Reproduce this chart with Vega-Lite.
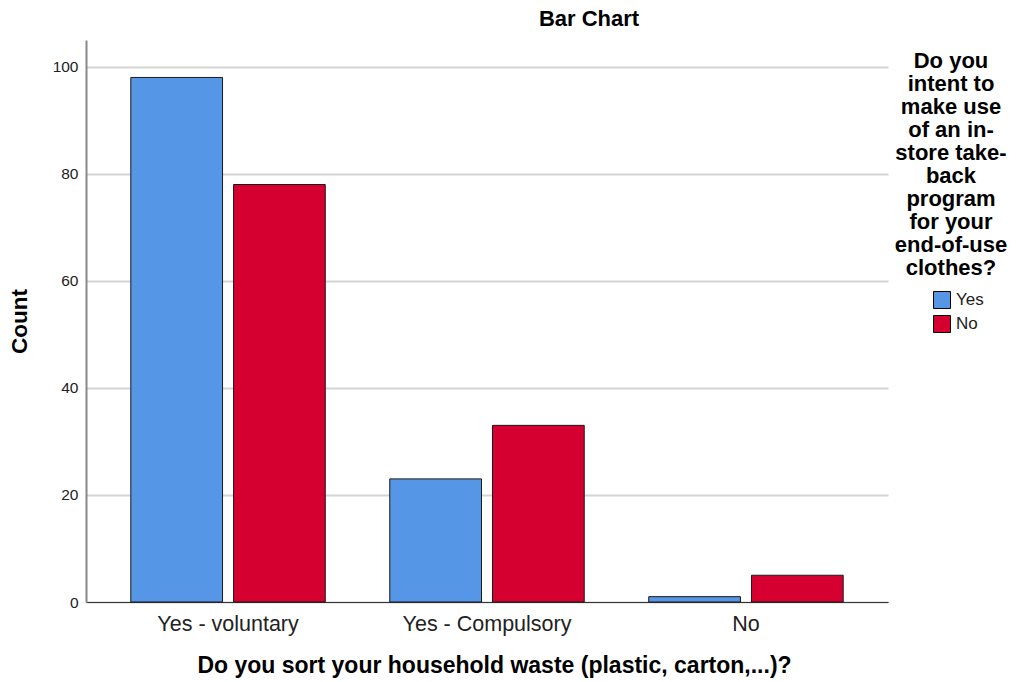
{
  "$schema": "https://vega.github.io/schema/vega-lite/v6.json",
  "autosize": "none",
  "width": 802,
  "height": 562,
  "padding": {"left": 86, "top": 40, "right": 131, "bottom": 80},
  "background": "white",
  "config": {
    "font": "Liberation Sans",
    "view": {"stroke": null}
  },
  "title": {
    "text": "Bar Chart",
    "font": "Liberation Sans",
    "fontSize": 22,
    "fontWeight": "bold",
    "color": "#000000",
    "anchor": "middle",
    "dx": 102,
    "offset": 9
  },
  "data": {
    "values": [
      {"sort": "Yes - voluntary", "intent": "Yes", "count": 98},
      {"sort": "Yes - voluntary", "intent": "No", "count": 78},
      {"sort": "Yes - Compulsory", "intent": "Yes", "count": 23},
      {"sort": "Yes - Compulsory", "intent": "No", "count": 33},
      {"sort": "No", "intent": "Yes", "count": 1},
      {"sort": "No", "intent": "No", "count": 5}
    ]
  },
  "mark": {"type": "bar", "stroke": "#1a1a1a", "strokeWidth": 1},
  "encoding": {
    "x": {
      "field": "sort",
      "type": "nominal",
      "sort": ["Yes - voluntary", "Yes - Compulsory", "No"],
      "scale": {"paddingInner": 0.249, "paddingOuter": 0.173},
      "axis": {
        "title": "Do you sort your household waste (plastic, carton,...)?",
        "titleFontSize": 23,
        "titleFontWeight": "bold",
        "titleColor": "#000000",
        "titlePadding": 20,
        "titleX": 408,
        "labelAngle": 0,
        "labelFontSize": 21.5,
        "labelColor": "#222222",
        "labelPadding": 11,
        "ticks": false,
        "domainColor": "#333333",
        "domainWidth": 1
      }
    },
    "xOffset": {
      "field": "intent",
      "type": "nominal",
      "sort": ["Yes", "No"],
      "scale": {"paddingInner": 0.107, "paddingOuter": 0}
    },
    "y": {
      "field": "count",
      "type": "quantitative",
      "scale": {"domain": [0, 105], "nice": false},
      "axis": {
        "title": "Count",
        "titleFontSize": 22.5,
        "titleFontWeight": "bold",
        "titleColor": "#000000",
        "titlePadding": 21,
        "values": [0, 20, 40, 60, 80, 100],
        "labelFontSize": 15.5,
        "labelColor": "#222222",
        "labelPadding": 8,
        "ticks": false,
        "grid": true,
        "gridColor": "#d4d4d4",
        "gridWidth": 2,
        "domainColor": "#888888",
        "domainWidth": 2
      }
    },
    "color": {
      "field": "intent",
      "type": "nominal",
      "sort": ["Yes", "No"],
      "scale": {"domain": ["Yes", "No"], "range": ["#5596e6", "#d5002f"]},
      "legend": {
        "title": ["Do you", "intent to", "make use", "of an in-", "store take-", "back", "program", "for your", "end-of-use", "clothes?"],
        "orient": "none",
        "legendX": 809,
        "legendY": 11,
        "titleFontSize": 22,
        "titleFontWeight": "bold",
        "titleColor": "#000000",
        "titleLineHeight": 23,
        "titleAlign": "center",
        "titleAnchor": "middle",
        "titlePadding": 11,
        "symbolType": "square",
        "symbolSize": 289,
        "symbolStrokeColor": "#000000",
        "symbolStrokeWidth": 1,
        "symbolOffset": 15,
        "labelFontSize": 17,
        "labelColor": "#222222",
        "labelOffset": 5,
        "rowPadding": 2
      }
    }
  }
}
